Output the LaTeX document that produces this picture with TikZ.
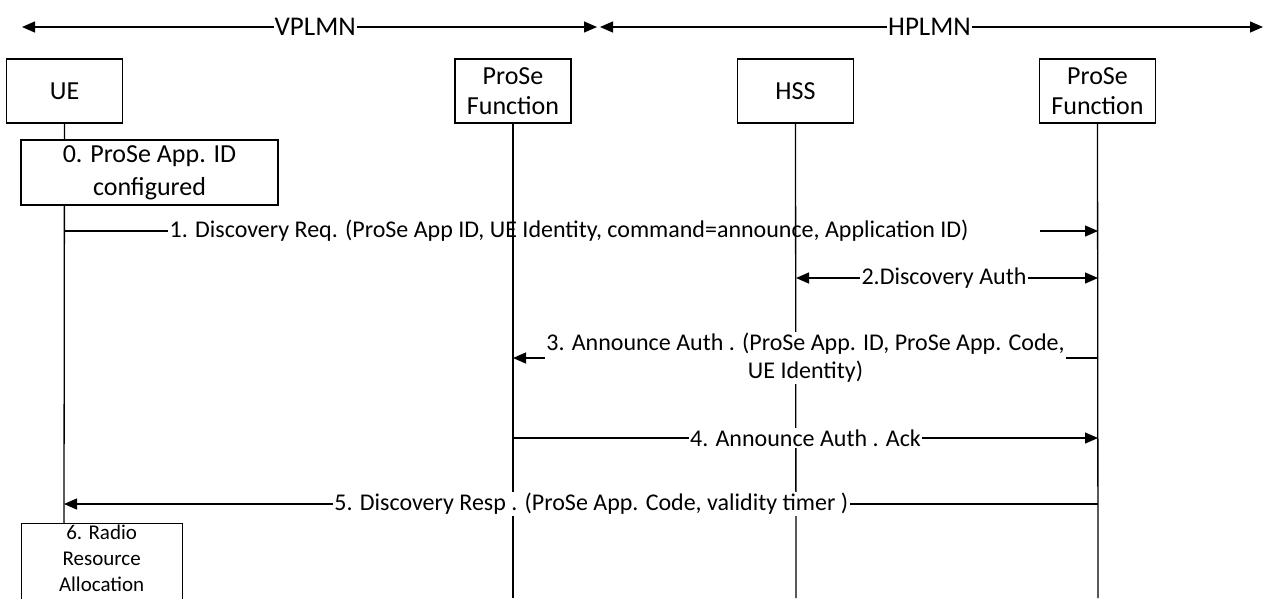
\documentclass[tikz,border=0pt]{standalone}
\usepackage{fontspec}
\setmainfont{Carlito}
\usetikzlibrary{arrows.meta}
\begin{document}
\begin{tikzpicture}[x=1pt,y=-1pt,
  ent/.style={draw, line width=1.3pt, fill=white, minimum width=116pt, minimum height=64pt, align=center, inner sep=0pt, font=\fontsize{26}{30}\selectfont},
  msg/.style={font=\fontsize{24}{30}\selectfont, inner sep=1.5pt, align=center},
  wmsg/.style={msg, fill=white},
  dom/.style={font=\fontsize{27}{30}\selectfont, inner sep=1pt, fill=white},
  life/.style={line width=1.3pt},
  arr/.style={line width=1.3pt, -{Triangle[length=13pt,width=11pt]}},
  barr/.style={line width=1.3pt, {Triangle[length=13pt,width=11pt]}-{Triangle[length=13pt,width=11pt]}},
]
\useasboundingbox (0,0) rectangle (1265,598);

% domain arrows
\coordinate (vl) at (22,27);
\coordinate (vr) at (597,27);
\coordinate (hl) at (600,27);
\coordinate (hr) at (1263,27);
\draw[barr] (vl) -- node[dom, pos=0.51] (vlab) {VPLMN} (vr);
\draw[barr] (hl) -- node[dom, pos=0.497] (hlab) {HPLMN} (hr);

% entities
\node[ent] (ue)  at (64.5,91)  {UE};
\node[ent] (pv)  at (513,91)   {ProSe\\Function};
\node[ent] (hss) at (795.5,91) {HSS};
\node[ent] (ph)  at (1097.5,91) {ProSe\\Function};

% lifeline end points
\coordinate (ueb) at (64,523);
\coordinate (pvb) at (513,598);
\coordinate (hssb) at (796,598);
\coordinate (phb) at (1098,598);
\draw[life] (ue.south) -- (ueb);
\draw[life] (pv.south) -- (pvb);
\draw[life] (hss.south) -- (hssb);
\draw[life] (ph.south) -- (phb);

% step 0
\node[ent, minimum width=257pt, minimum height=65pt, font=\fontsize{26}{33}\selectfont] (s0) at (149.5,172.5) {0. ProSe App. ID\\configured};

% message y coordinates on lifelines
\coordinate (ue1) at (64,231);
\coordinate (ph1) at (1098,231);
\coordinate (m1e) at (1040,231);
\coordinate (hss2) at (796,278);
\coordinate (ph2) at (1098,278);
\coordinate (ph3) at (1098,358);
\coordinate (pv3) at (513,358);
\coordinate (pv4) at (513,438);
\coordinate (ph4) at (1098,438);
\coordinate (ph5) at (1098,504);
\coordinate (ue5) at (64,504);

% 1
\node[msg, anchor=west] (m1) at (168,231) {1. Discovery Req. (ProSe App ID, UE Identity, command=announce, Application ID)};
\draw[life] (ue1) -- (m1.west);
\draw[arr] (m1e) -- (ph1);

% 2
\draw[barr] (hss2) -- node[wmsg, pos=0.49] (m2) {2.Discovery Auth} (ph2);

% 3
\draw[arr] (ph3) -- node[wmsg, pos=0.5, font=\fontsize{24}{28}\selectfont] (m3) {3. Announce Auth . (ProSe App. ID, ProSe App. Code,\\UE Identity)} (pv3);

% 4
\draw[arr] (pv4) -- node[wmsg, pos=0.5] (m4) {4. Announce Auth . Ack} (ph4);

% 5
\draw[arr] (ph5) -- node[wmsg, pos=0.49] (m5) {5. Discovery Resp . (ProSe App. Code, validity timer )} (ue5);

% 6
\node[draw, line width=1.3pt, fill=white, anchor=north west, minimum width=161pt, minimum height=90pt, inner sep=0pt] (s6) at (20.5,523) {};
\node[font=\fontsize{21}{26}\selectfont, align=center, anchor=north, inner sep=0pt] (s6t) at ([yshift=-2pt]s6.north) {6. Radio\\Resource\\Allocation};
\end{tikzpicture}
\end{document}
